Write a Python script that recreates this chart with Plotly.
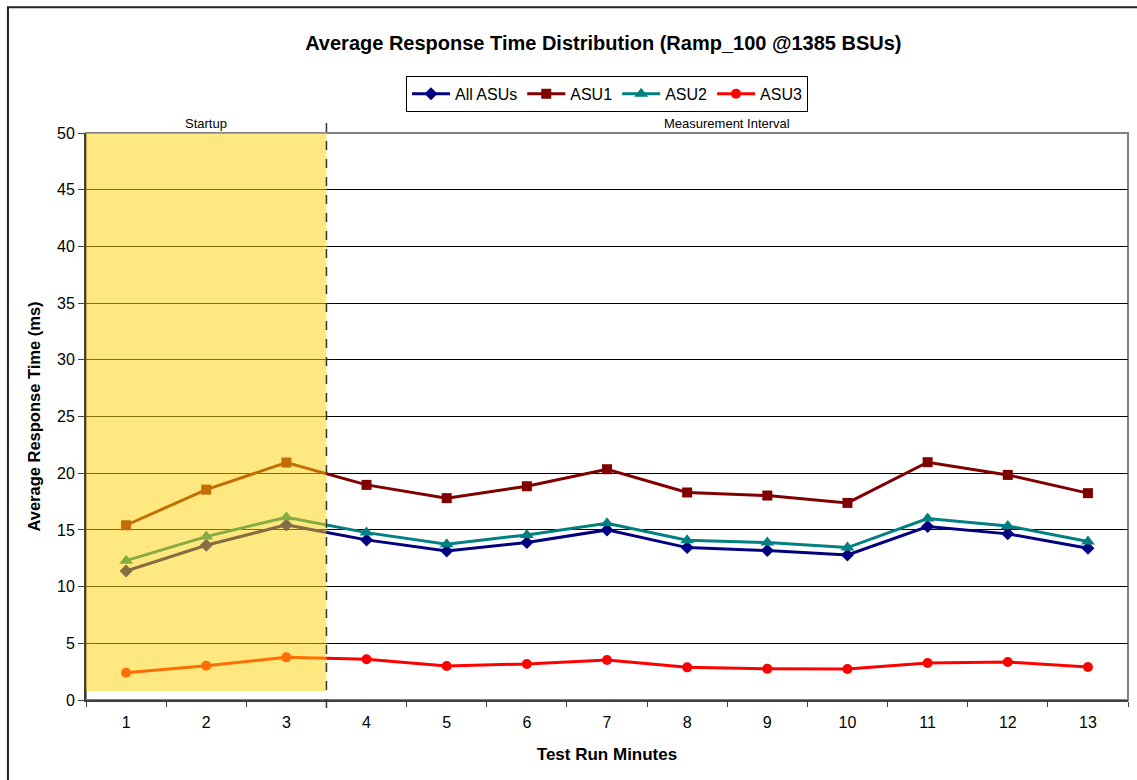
import plotly.graph_objects as go

minutes = list(range(1, 14))
all_asus = [11.38, 13.65, 15.44, 14.12, 13.15, 13.88, 15.0, 13.44, 13.18, 12.79, 15.29, 14.65, 13.38]
asu1 = [15.41, 18.55, 20.94, 18.97, 17.8, 18.85, 20.35, 18.3, 18.03, 17.38, 20.97, 19.85, 18.24]
asu2 = [12.29, 14.41, 16.12, 14.76, 13.74, 14.56, 15.59, 14.09, 13.88, 13.44, 16.0, 15.35, 13.97]
asu3 = [2.41, 3.03, 3.76, 3.59, 3.0, 3.18, 3.53, 2.88, 2.76, 2.74, 3.26, 3.35, 2.91]

series = [
    ("All ASUs", all_asus, "#000080", "diamond", 10),
    ("ASU1", asu1, "#800000", "square", 10),
    ("ASU2", asu2, "#008080", "triangle-up", 12),
    ("ASU3", asu3, "#FF0000", "circle", 10),
]

FONT = "Liberation Sans, Arial, sans-serif"

fig = go.Figure()
for name, vals, color, sym, size in series:
    fig.add_trace(go.Scatter(
        x=minutes, y=vals, name=name, mode="lines+markers",
        line=dict(color=color, width=3),
        marker=dict(symbol=sym, size=size, color=color),
    ))

# plot-area border (gray)
fig.add_shape(type="rect", xref="paper", yref="paper", x0=0, x1=1, y0=0, y1=1,
              line=dict(color="#808080", width=2), fillcolor="rgba(0,0,0,0)", layer="below")
# outer chart border
fig.add_shape(type="rect", xref="paper", yref="paper", x0=-0.0749, x1=1.3, y0=-0.4, y1=1.222,
              line=dict(color="#222222", width=2), fillcolor="rgba(0,0,0,0)", layer="below")
# startup shaded area (drawn above lines, translucent)
fig.add_shape(type="rect", xref="x", yref="y", x0=0.5, x1=3.5, y0=0.8, y1=50,
              line=dict(width=0), fillcolor="rgba(255,210,10,0.52)", layer="above")
# dashed separator
fig.add_shape(type="line", xref="x", yref="paper", x0=3.5, x1=3.5, y0=-0.014, y1=1.026,
              line=dict(color="#333333", width=1.5, dash="dash"), layer="above")

fig.add_annotation(x=2, y=1.0, xref="x", yref="paper", text="Startup", showarrow=False,
                   yanchor="bottom", font=dict(size=13, color="#000000", family=FONT))
fig.add_annotation(x=8.5, y=1.0, xref="x", yref="paper", text="Measurement Interval", showarrow=False,
                   yanchor="bottom", font=dict(size=13, color="#000000", family=FONT))

fig.update_layout(
    width=1137, height=780,
    margin=dict(l=86, r=9, t=133, b=80),
    paper_bgcolor="white", plot_bgcolor="white",
    font=dict(family=FONT, size=15, color="#000000"),
    title=dict(text="<b>Average Response Time Distribution (Ramp_100 @1385 BSUs)</b>",
               x=0.4965, xref="paper", xanchor="center", y=1 - 43 / 780, yanchor="middle",
               font=dict(size=20, family=FONT)),
    legend=dict(orientation="h", x=0.5, xanchor="center", y=1.069, yanchor="middle",
                bordercolor="#000000", borderwidth=1, bgcolor="white",
                font=dict(size=16, family=FONT), itemwidth=38, tracegroupgap=0),
    showlegend=True,
)
fig.update_xaxes(
    range=[0.5, 13.5], tickmode="array", tickvals=minutes, ticktext=[str(m) for m in minutes],
    ticks="", showgrid=False, zeroline=False, showline=True, linecolor="#404040", linewidth=2,
    minor=dict(ticks="outside", tick0=0.5, dtick=1, ticklen=5, tickcolor="#404040", showgrid=False),
    tickfont=dict(size=16), ticklabelstandoff=7,
    title=dict(text="<b>Test Run Minutes</b>", font=dict(size=17), standoff=18),
)
fig.update_yaxes(
    range=[0, 50], dtick=5, tick0=0, ticks="outside", ticklen=6, tickcolor="#404040",
    showgrid=True, gridcolor="#000000", gridwidth=1, zeroline=False,
    showline=True, linecolor="#404040", linewidth=2,
    tickfont=dict(size=16),
    title=dict(text="<b>Average Response Time (ms)</b>", font=dict(size=16.5), standoff=12),
)

fig.write_html("out.html")
